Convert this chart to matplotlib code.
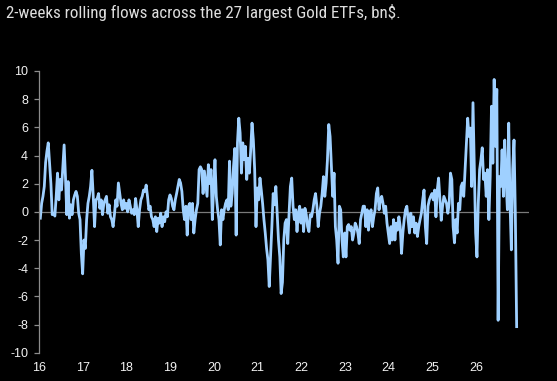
import numpy as np
import pandas as pd
import matplotlib
matplotlib.use("Agg")
import matplotlib.pyplot as plt
from matplotlib import font_manager as fm

# 2-week rolling flows, bn$ (oldest first)
flows = [
    # early 2016 -> late 2017
    -0.45, 0.6, 1.1, 1.8, 3.5, 4.3, 4.9, 3.5, 2.0, -0.2, -0.1, -0.3, 1.1, 2.75, 0.85,
    2.3, 1.55, 3.2, 4.75, 2.5, -0.2, 2.15, -0.45, 0.5, -0.2, 0.85, 1.2, 1.45, 1.1, -0.1,
    -0.55, -2.95, -4.4, -2.0, -2.6, -0.55, 0.6, 1.1, 1.8, 2.95, 1.1, -1.05, 0.85, 0.95, 1.3,
    0.25, 0.85, -0.2, 0.6, 0.85, 1.1, -0.1, 0.5, -0.35, -0.55, -1.05, -0.2, 0.85, 0.4, 2.05,
    # late 2017 -> end 2019
    1.3, 0.6, 0.15, 0.85, 0.25, 0.6, 0.0, 0.85, 0.4, -0.1, 0.15, -0.2, 0.95, 0.15, -1.05,
    0.15, 0.85, 1.1, 1.55, 1.45, 1.9, 1.1, 0.15, 0.4, -0.35, -0.55, -1.05, -0.35, -1.4, -0.45,
    -0.8, -0.1, -1.05, -0.35, -0.7, 0.0, -0.35, 0.85, 1.2, 0.95, 0.4, 0.15, 0.85, 1.3, 1.8,
    2.3, 2.05, 1.45, 0.15, -0.55, 0.4, -1.65, 0.4, 0.6, -0.55, 0.6, -1.5, -0.55, 0.15, 0.6,
    3.0,
    # 2020 -> late 2021
    3.2, 3.0, 1.3, 2.9, 2.0, 1.1, 3.35, 2.0, 3.0, -0.55, 1.8, 3.7, 1.1, 0.15, -0.55,
    -2.35, 0.15, -0.55, 0.15, 0.6, 0.85, 0.15, 3.6, 0.4, 1.3, 3.2, 4.5, -1.65, 4.9, 6.65,
    5.6, 2.75, 4.9, 3.7, 4.65, 2.3, 3.8, 2.75, 4.4, 6.3, 5.1, 3.0, -1.05, 1.7, 0.85,
    2.4, 1.55, 0.6, -0.55, -1.5, -2.6, -3.4, -5.3, -3.2, -1.05, 1.3, 0.5, 1.8, -0.1, -2.0,
    -3.2, -5.8,
    # late 2021 -> mid 2023
    -5.0, -2.0, -0.8, -0.55, -2.25, -0.1, 1.8, 2.4, 0.4, -0.55, 0.15, -1.4, -0.1, 0.4, -0.8,
    0.15, -1.4, 0.25, -0.2, -1.05, -1.4, -0.2, -0.35, 0.15, 0.85, 1.3, 0.4, -1.05, -0.1, 0.4,
    1.3, 2.5, 1.1, 2.05, 3.7, 6.2, 5.35, 3.2, 1.1, 2.75, -1.05, -2.0, -3.65, 0.4, 0.15,
    -2.0, -3.2, -1.5, -3.2, -1.05, -0.9, -1.3, -1.05, -2.0, -1.5, -0.8, -1.05, -1.5, -2.25, -0.55,
    -0.1, 0.4,
    # mid 2023 -> early 2025
    0.4, -1.05, 0.15, -1.3, -0.1, 0.15, -1.05, -0.35, 0.15, 1.3, 1.7, 0.15, 0.85, 1.1, 0.6,
    -0.1, 0.4, -0.8, -1.5, -2.25, -1.05, -2.0, -0.55, -2.0, -0.8, -1.3, -0.35, -1.05, -2.95, -1.5,
    -0.55, 0.15, 0.4, -0.55, -1.5, -0.1, -1.05, -0.35, -1.5, -0.8, -1.75, -1.05, -0.55, -0.1, 0.85,
    1.55, -1.05, -2.25, 0.4, 0.85, 1.1, 1.3, 0.85, 1.55, -0.35, 1.55, 2.4, 0.85, -0.6, 0.4,
    1.1, 0.85, 0.6,
    # early 2025 -> end
    -0.1, 0.6, 2.75, 2.3, -1.05, -2.2, -0.55, -1.5, 0.6, 0.15, 1.8, 2.05, 1.1, 3.0, 4.9,
    6.65, 5.35, 5.95, 1.8, 7.75, 3.0, -1.5, -3.2, 0.6, 3.0, 3.7, 4.55, 2.3, 2.75, 1.1,
    3.0, -0.55, 2.5, 7.5, 3.45, 9.4, 4.65, 8.7, -7.7, 2.5, 1.8, 4.4, 1.1, 5.1, 2.3,
    0.15, 6.3, 0.6, -2.7, 3.0, 5.1, -0.1, -8.15,
]
first_date = "2016-01-12"
last_date = "2026-12-05"
year_labels = ["16", "17", "18", "19", "20", "21", "22", "23", "24", "25", "26"]
y_ticks = [-10, -8, -6, -4, -2, 0, 2, 4, 6, 8, 10]

title = "2-weeks rolling flows across the 27 largest Gold ETFs, bn$."


def narrow_font():
    # the source uses a condensed face; take one if the box has any
    prefs = ["liberation sans narrow", "roboto condensed", "open sans condensed",
             "noto sans", "dejavu sans", "roboto", "open sans"]
    found = []
    for f in fm.fontManager.ttflist:
        name = f.name.lower()
        narrow = ("narrow" in name or "condensed" in name
                  or str(f.stretch).lower() in ("condensed", "semi-condensed", "extra-condensed"))
        if narrow and f.style == "normal" and f.weight in (400, "normal", "regular"):
            rank = next((i for i, p in enumerate(prefs) if name.startswith(p)), len(prefs))
            found.append((rank, f.fname))
    if found:
        found.sort()
        return fm.FontProperties(fname=found[0][1])
    return fm.FontProperties(family=["Liberation Sans", "DejaVu Sans"])


dates = pd.date_range(first_date, last_date, periods=len(flows))
year_ticks = pd.to_datetime(["20" + y + "-01-01" for y in year_labels])

fig = plt.figure(figsize=(5.57, 3.81), dpi=100)
fig.patch.set_facecolor("black")
ax = fig.add_axes([39 / 557, 1 - 352.7 / 381, (528.5 - 39) / 557, (352.7 - 71) / 381])
ax.set_facecolor("black")

ax.axhline(0, color="#7a7a7a", lw=0.9, zorder=1)
ax.plot(dates, flows, color="#9fd0ff", lw=2.0, zorder=2)

ax.set_ylim(-10, 10)
ax.set_xlim(pd.Timestamp("2016-01-01"), pd.Timestamp("2027-03-14"))
ax.set_yticks(y_ticks)
ax.set_yticklabels([str(v) for v in y_ticks])
ax.set_xticks(year_ticks)
ax.set_xticklabels(year_labels)

for side in ["top", "right", "bottom"]:
    ax.spines[side].set_visible(False)
ax.spines["left"].set_color("#8c8c8c")
ax.spines["left"].set_linewidth(0.9)

ax.tick_params(axis="y", colors="#8c8c8c", length=3.3, width=0.9, pad=4.5,
               labelcolor="#f2f2f2", labelsize=9)
ax.tick_params(axis="x", length=0, pad=7, labelcolor="#f2f2f2", labelsize=9)
for lab in ax.get_xticklabels() + ax.get_yticklabels():
    lab.set_fontfamily(["Liberation Sans", "DejaVu Sans"])

# title: condensed face if available, sized so it spans the same width as the source
tprops = narrow_font()
tprops.set_size(13)
ttl = fig.text(6 / 557, 1 - 12.5 / 381, title, color="#dedede",
               fontproperties=tprops, ha="left", va="center")
fig.canvas.draw()
w = ttl.get_window_extent().width
tprops.set_size(min(13.5, 13 * 393 / w))
ttl.set_fontproperties(tprops)

fig.savefig("out.png", dpi=100, facecolor="black")
